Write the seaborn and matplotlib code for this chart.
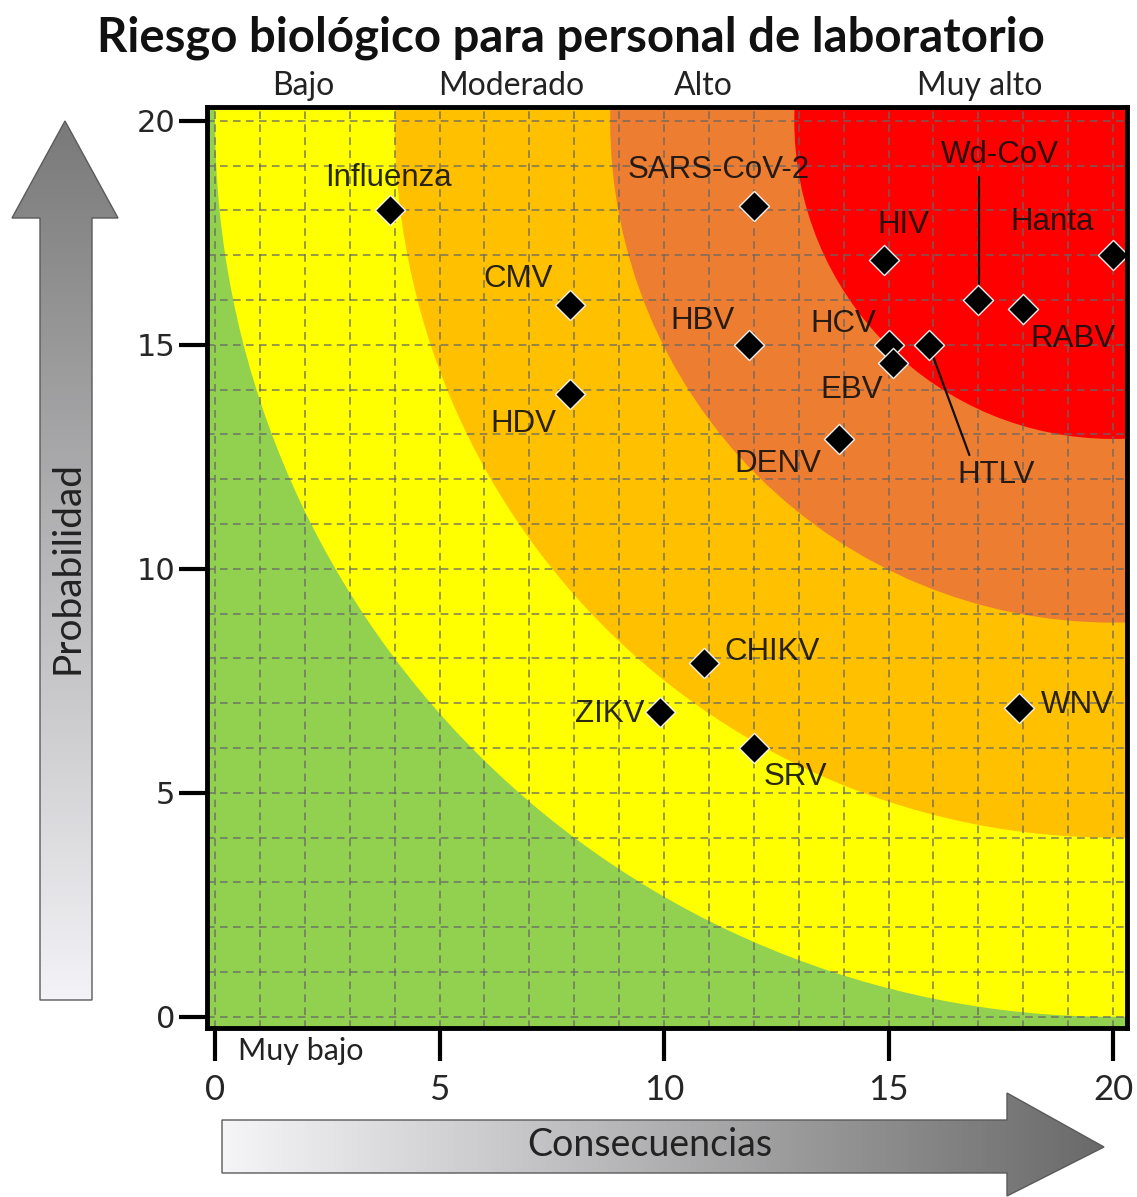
import numpy as np
import pandas as pd
import matplotlib
matplotlib.use("Agg")
import matplotlib.pyplot as plt
from matplotlib.patches import Circle, Polygon
from matplotlib.colors import LinearSegmentedColormap
import seaborn as sns

# ---------------- data ----------------
names = ["Influenza", "SARS-CoV-2", "CMV", "HDV", "HBV", "HIV", "Wd-CoV", "Hanta",
         "RABV", "HCV", "EBV", "HTLV", "DENV", "CHIKV", "ZIKV", "SRV", "WNV"]
consecuencias = [3.9, 12.0, 7.9, 7.9, 11.9, 14.9, 17.0, 20.0,
                 18.0, 15.0, 15.1, 15.9, 13.9, 10.9, 9.9, 12.0, 17.9]
probabilidad = [18.0, 18.1, 15.9, 13.9, 15.0, 16.9, 16.0, 17.0,
                15.8, 15.0, 14.6, 15.0, 12.9, 7.9, 6.8, 6.0, 6.9]

x_ticks = [0, 5, 10, 15, 20]
y_ticks = [0, 5, 10, 15, 20]
zone_names = ["Muy bajo", "Bajo", "Moderado", "Alto", "Muy alto"]
zone_radii = [20.0, 16.0, 11.2, 7.1]          # distance from (20, 20)
zone_colors = ["#92D050", "#FFFF00", "#FFC000", "#ED7D31", "#FF0000"]

df = pd.DataFrame({"virus": names, "x": consecuencias, "y": probabilidad})

# ---------------- layout (label anchors) ----------------
label_pos = {
    "Influenza": (3.85, 18.55), "SARS-CoV-2": (11.22, 18.73), "CMV": (6.75, 16.3),
    "HDV": (6.86, 13.06), "HBV": (10.85, 15.36), "HIV": (15.32, 17.5),
    "Wd-CoV": (17.48, 19.06), "Hanta": (18.65, 17.57), "RABV": (19.1, 14.96),
    "HCV": (13.99, 15.29), "EBV": (14.17, 13.82), "HTLV": (17.4, 11.92),
    "DENV": (12.53, 12.17), "CHIKV": (12.4, 7.97), "ZIKV": (8.78, 6.58),
    "SRV": (12.92, 5.18), "WNV": (19.2, 6.79),
}
leaders = {"Wd-CoV": [(17.02, 18.75), (17.02, 16.35)],
           "HTLV": [(15.97, 14.8), (16.8, 12.54)]}

sns.set_style("white")
plt.rcParams["font.family"] = ["Lato", "DejaVu Sans"]

W, H = 1137, 1197
fig = plt.figure(figsize=(W / 100, H / 100), dpi=100)

# background overlay for arrows (pixel coordinates)
ax_o = fig.add_axes([0, 0, 1, 1], zorder=-1)
ax_o.set_xlim(0, W)
ax_o.set_ylim(H, 0)
ax_o.axis("off")

def grad_arrow(pts, extent, vertical, c_light, c_dark):
    poly = Polygon(pts, closed=True, facecolor="none", edgecolor="#5a5a5a", lw=1.0, zorder=3)
    ax_o.add_patch(poly)
    n = 256
    cmap = LinearSegmentedColormap.from_list("g", [c_light, c_dark])
    if vertical:
        arr = np.linspace(1, 0, n).reshape(-1, 1)
    else:
        arr = np.linspace(0, 1, n).reshape(1, -1)
    im = ax_o.imshow(arr, cmap=cmap, extent=extent, aspect="auto", zorder=2,
                     interpolation="bilinear")
    im.set_clip_path(poly)

grad_arrow([(40, 1000), (40, 218), (12, 218), (65, 121), (118, 218), (92, 218), (92, 1000)],
           (12, 118, 1000, 121), True, "#f3f3f7", "#7a7a7a")
grad_arrow([(222, 1120), (1007, 1120), (1007, 1093), (1104, 1147), (1007, 1196), (1007, 1173), (222, 1173)],
           (222, 1104, 1196, 1093), False, "#f5f5f8", "#6a6a6a")
ax_o.text(67, 567, "Probabilidad", rotation=90, ha="center", va="center",
          fontsize=28, color="#222222")
ax_o.text(650, 1145, "Consecuencias", ha="center", va="center",
          fontsize=27, color="#222222")

# main axes
ax = fig.add_axes([207 / W, 1 - 1028 / H, 920 / W, 921 / H])
ax.set_xlim(-0.18, 20.31)
ax.set_ylim(-0.25, 20.31)
ax.set_facecolor(zone_colors[0])

for r, c in zip(zone_radii, zone_colors[1:]):
    ax.add_patch(Circle((20, 20), r, facecolor=c, edgecolor="none", zorder=0.2))

ax.set_axisbelow(True)
ax.set_xticks(x_ticks)
ax.set_yticks(y_ticks)
ax.set_xticks(np.arange(0, 21, 1), minor=True)
ax.set_yticks(np.arange(0, 21, 1), minor=True)
ax.grid(which="both", color="#666666", alpha=0.85, linewidth=1.1, linestyle=(0, (5, 3.5)))

ax.tick_params(axis="x", which="major", direction="out", length=24, width=3,
               pad=9, labelsize=25, color="black", bottom=True)
ax.tick_params(axis="y", which="major", direction="out", length=20, width=3,
               pad=3, labelsize=22, color="black", left=True)
ax.tick_params(which="minor", length=0)
for lab in ax.get_yticklabels():
    lab.set_family("DejaVu Sans")
for lab in ax.get_xticklabels():
    lab.set_family("Lato")
for s in ax.spines.values():
    s.set_linewidth(3.5)
    s.set_color("black")
    s.set_zorder(5)

sns.scatterplot(data=df, x="x", y="y", marker="D", s=235, color="black",
                edgecolor="#f0f0f0", linewidth=1.0, ax=ax, zorder=4, legend=False)
ax.set_xlabel("")
ax.set_ylabel("")

for name, (lx, ly) in label_pos.items():
    ax.text(lx, ly, name, ha="center", va="baseline", fontsize=22.5,
            family=["Liberation Sans", "DejaVu Sans"], color="#111111", alpha=0.9, zorder=6)
for name, pts in leaders.items():
    xs, ys = zip(*pts)
    ax.plot(xs, ys, color="#111111", lw=1.6, zorder=3.5)

# zone names
top_label_x = [1.96, 6.6, 10.87, 17.04]
for name, lx in zip(zone_names[1:], top_label_x):
    ax.text(lx, 20.58, name, ha="center", va="baseline", fontsize=23,
            color="#222222", clip_on=False)
ax.text(0.51, -0.96, zone_names[0], ha="left", va="baseline", fontsize=22,
        color="#222222", clip_on=False)

fig.text(571 / W, 1 - 52 / H, "Riesgo biológico para personal de laboratorio",
         ha="center", va="baseline", fontsize=34, fontweight="bold", color="#111111")

fig.savefig("out.png", dpi=100)
